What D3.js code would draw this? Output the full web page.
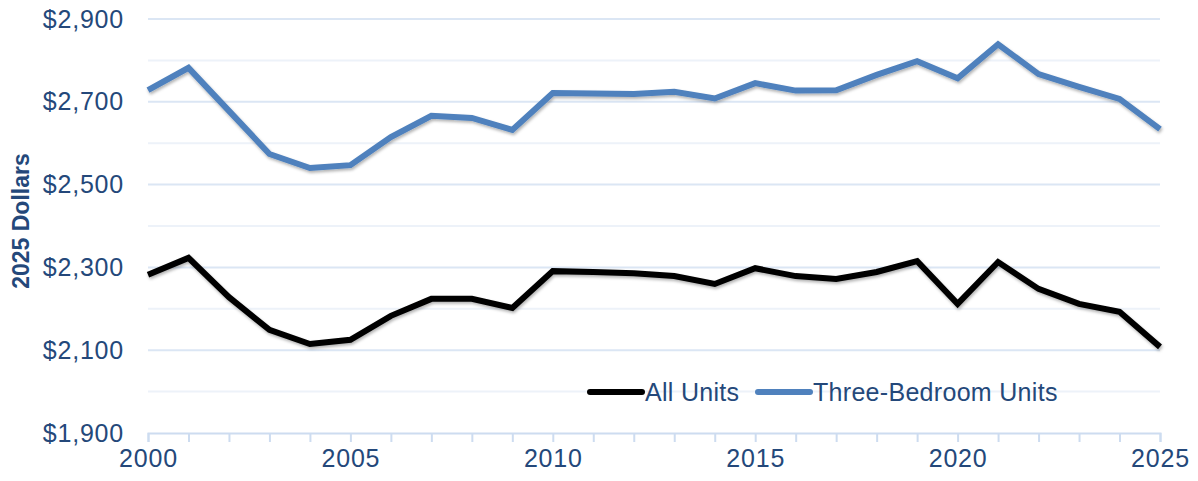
<!DOCTYPE html>
<html>
<head>
<meta charset="utf-8">
<script src="https://cdn.jsdelivr.net/npm/d3@7"></script>
<style>
  body { margin: 0; background: #fff; }
  text { font-family: "Liberation Sans", Arial, sans-serif; fill: #24487a; }
</style>
</head>
<body>
<div id="chart"></div>
<script>
// years on the x axis
const years = d3.range(2000, 2026);
// monthly rent, 2025 dollars
const allUnits = [2282, 2323, 2228, 2149, 2115, 2125, 2183, 2224, 2224, 2202,
  2291, 2289, 2286, 2279, 2260, 2298, 2279, 2272, 2289, 2315,
  2212, 2313, 2248, 2212, 2193, 2108];
const threeBedroom = [2728, 2782, 2678, 2574, 2540, 2547, 2615, 2666, 2661, 2632,
  2721, 2720, 2719, 2724, 2708, 2745, 2727, 2728, 2765, 2798,
  2757, 2839, 2767, 2736, 2707, 2634];
const yTicks = [1900, 2100, 2300, 2500, 2700, 2900];
const xTicks = [2000, 2005, 2010, 2015, 2020, 2025];
const seriesNames = ["All Units", "Three-Bedroom Units"];
const seriesColors = ["#000000", "#4f81bd"];

const width = 1198, height = 481;
const margin = { top: 19, right: 38, bottom: 48, left: 148 };

const svg = d3.select("#chart").append("svg")
  .attr("width", width)
  .attr("height", height);

const defs = svg.append("defs");
const shadow = defs.append("filter").attr("id", "shadow")
  .attr("x", "-5%").attr("y", "-20%").attr("width", "110%").attr("height", "140%");
shadow.append("feDropShadow")
  .attr("dx", 1).attr("dy", 2).attr("stdDeviation", 1.5)
  .attr("flood-color", "#000").attr("flood-opacity", 0.3);

const x = d3.scaleLinear().domain([2000, 2025]).range([margin.left, width - margin.right]);
const y = d3.scaleLinear().domain([1900, 2900]).range([height - margin.bottom, margin.top]);

// gridlines every 100, labelled ones a bit stronger
const grid = svg.append("g");
grid.selectAll("line")
  .data(d3.range(2000, 2901, 100))
  .join("line")
  .attr("x1", x(2000))
  .attr("x2", x(2025))
  .attr("y1", d => y(d))
  .attr("y2", d => y(d))
  .attr("stroke", d => (d - 1900) % 200 === 0 ? "#dbe6f4" : "#edf2f9")
  .attr("stroke-width", 2);

// x axis
const xAxis = d3.axisBottom(x)
  .tickValues(years)
  .tickSize(9)
  .tickFormat(d => xTicks.includes(d) ? d : "");
const gx = svg.append("g")
  .attr("transform", `translate(0, ${y(1900)})`)
  .call(xAxis);
gx.select(".domain").attr("stroke", "#cddcf0").attr("stroke-width", 2);
gx.selectAll(".tick line").attr("stroke", "#cddcf0").attr("stroke-width", 2);
gx.selectAll(".tick text")
  .attr("y", 16)
  .style("font-size", "25px")
  .style("letter-spacing", "0.8px")
  .style("fill", "#24487a");

// y axis
const yAxis = d3.axisLeft(y)
  .tickValues(yTicks)
  .tickSize(0)
  .tickFormat(d => "$" + d3.format(",")(d));
const gy = svg.append("g")
  .attr("transform", `translate(${margin.left}, 0)`)
  .call(yAxis);
gy.select(".domain").remove();
gy.selectAll(".tick text")
  .attr("x", -24)
  .style("font-size", "25px")
  .style("letter-spacing", "0.8px")
  .style("fill", "#24487a");

svg.append("text")
  .attr("transform", `translate(29, ${y(2412)}) rotate(-90)`)
  .attr("text-anchor", "middle")
  .style("font-size", "23px")
  .style("font-weight", "bold")
  .text("2025 Dollars");

// lines
const line = d3.line()
  .x((d, i) => x(years[i]))
  .y(d => y(d));

[allUnits, threeBedroom].forEach((s, k) => {
  svg.append("path")
    .datum(s)
    .attr("fill", "none")
    .attr("stroke", seriesColors[k])
    .attr("stroke-width", 6)
    .attr("stroke-linejoin", "miter")
    .attr("filter", "url(#shadow)")
    .attr("d", line);
});

// legend
const legendX = [590, 758];
const legendY = 392;
seriesNames.forEach((name, k) => {
  svg.append("line")
    .attr("x1", legendX[k]).attr("x2", legendX[k] + 52)
    .attr("y1", legendY).attr("y2", legendY)
    .attr("stroke", seriesColors[k])
    .attr("stroke-width", 6)
    .attr("stroke-linecap", "round");
  svg.append("text")
    .attr("x", legendX[k] + 55)
    .attr("y", legendY + 9)
    .style("font-size", "25px")
    .style("letter-spacing", "0.3px")
    .text(name);
});
</script>
</body>
</html>
